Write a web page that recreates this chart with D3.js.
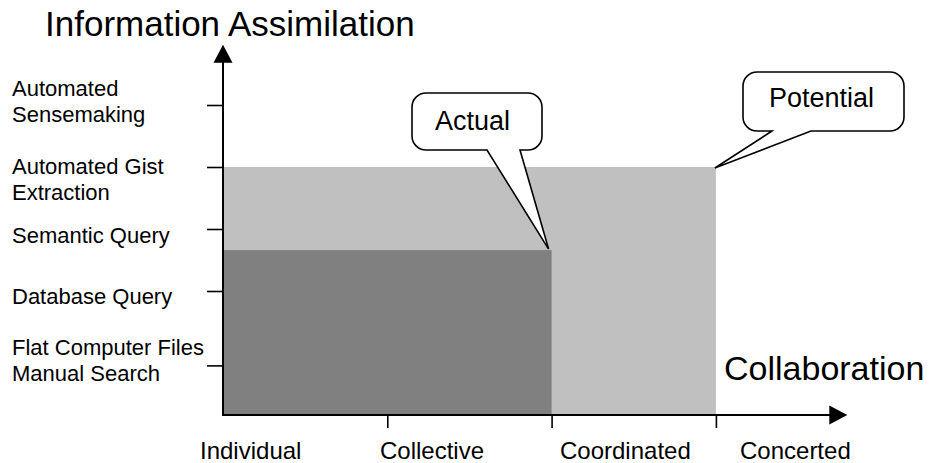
<!DOCTYPE html>
<html>
<head>
<meta charset="utf-8">
<script src="https://cdn.jsdelivr.net/npm/d3@7"></script>
<style>
  html, body { margin: 0; padding: 0; background: #fff; }
  svg { display: block; font-family: "Liberation Sans", Arial, sans-serif; }
</style>
</head>
<body>
<svg id="chart" width="931" height="463"></svg>
<script>
// ---- data ----
const yLevelLabels = [
  ["Flat Computer Files", "Manual Search"],
  ["Database Query"],
  ["Semantic Query"],
  ["Automated Gist", "Extraction"],
  ["Automated", "Sensemaking"]
];
const yLevelValues = [0.8, 2, 3, 4, 5];
const xCategories = ["Individual", "Collective", "Coordinated", "Concerted"];
const xTickValues = [1, 2, 3];
const seriesNames = ["Potential", "Actual"];
const seriesCollab = [3, 2];        // extent along collaboration axis
const seriesAssim = [4, 2.66];      // height along information assimilation axis
const seriesColors = ["#c0c0c0", "#808080"];
const yTitle = "Information Assimilation";
const xTitle = "Collaboration";

// ---- layout ----
const svg = d3.select("#chart");
const x = d3.scaleLinear().domain([0, 1]).range([223, 387.3]);
const y = d3.scaleLinear().domain([0, 1]).range([415, 353]);
const xAxisEnd = 3.8;   // arrow tip on collaboration axis
const yAxisEnd = 5.97;  // arrow tip on assimilation axis

// bars (draw Potential first, Actual on top)
svg.append("g").selectAll("rect")
  .data(seriesNames.map((n, i) => ({ n, cx: seriesCollab[i], cy: seriesAssim[i], c: seriesColors[i] })))
  .join("rect")
  .attr("x", x(0))
  .attr("y", d => y(d.cy))
  .attr("width", d => x(d.cx) - x(0))
  .attr("height", d => y(0) - y(d.cy))
  .attr("fill", d => d.c);

// y axis ticks
const yAxisG = svg.append("g")
  .attr("transform", `translate(${x(0)},0)`)
  .call(d3.axisLeft(y).tickValues(yLevelValues).tickSize(16).tickSizeOuter(0).tickFormat(""));
yAxisG.select(".domain").remove();
yAxisG.selectAll(".tick line").attr("stroke", "#000").attr("stroke-width", 1.6);

// x axis ticks
const xAxisG = svg.append("g")
  .attr("transform", `translate(0,${y(0)})`)
  .call(d3.axisBottom(x).tickValues(xTickValues).tickSize(13).tickSizeOuter(0).tickFormat(""));
xAxisG.select(".domain").remove();
xAxisG.selectAll(".tick line").attr("stroke", "#000").attr("stroke-width", 1.6);

// axis lines with arrows
svg.append("line")
  .attr("x1", x(0)).attr("y1", y(0)).attr("x2", x(0)).attr("y2", y(yAxisEnd) + 14)
  .attr("stroke", "#000").attr("stroke-width", 2);
svg.append("path")
  .attr("d", `M${x(0)},${y(yAxisEnd)} L${x(0) + 9.5},${y(yAxisEnd) + 18} L${x(0) - 9.5},${y(yAxisEnd) + 18} Z`)
  .attr("fill", "#000");
svg.append("line")
  .attr("x1", x(0) - 1).attr("y1", y(0)).attr("x2", x(xAxisEnd) - 14).attr("y2", y(0))
  .attr("stroke", "#000").attr("stroke-width", 2);
svg.append("path")
  .attr("d", `M${x(xAxisEnd)},${y(0)} L${x(xAxisEnd) - 18},${y(0) - 9.5} L${x(xAxisEnd) - 18},${y(0) + 9.5} Z`)
  .attr("fill", "#000");

// y level labels (multi-line, left aligned)
const yLabelFirstDy = [-10, 12.5, 14, 6.7, -8.6];
const yLabelLineH = 26;
const yl = svg.append("g").attr("font-size", 22).attr("fill", "#000");
yLevelLabels.forEach((lines, i) => {
  const t = yl.append("text").attr("x", 12).attr("y", y(yLevelValues[i]) + yLabelFirstDy[i]);
  lines.forEach((ln, j) => {
    t.append("tspan").attr("x", 12).attr("dy", j === 0 ? 0 : yLabelLineH).text(ln);
  });
});

// x category labels
const xLabelPos = d3.scalePoint().domain(xCategories).range([200, 740]);
svg.append("g").attr("font-size", 24).attr("fill", "#000")
  .selectAll("text").data(xCategories).join("text")
  .attr("x", d => xLabelPos(d)).attr("y", 459)
  .text(d => d);

// axis titles
svg.append("text").attr("x", 45).attr("y", 36).attr("font-size", 35).text(yTitle);
svg.append("text").attr("x", 724).attr("y", 380).attr("font-size", 34).text(xTitle);

// callouts
function calloutPath(b, baseL, baseR, tip, r) {
  const { x0, y0, x1, y1 } = b;
  return `M${x0 + r},${y0} H${x1 - r} A${r},${r} 0 0 1 ${x1},${y0 + r} V${y1 - r} A${r},${r} 0 0 1 ${x1 - r},${y1}` +
    ` H${baseR} L${tip[0]},${tip[1]} L${baseL},${y1} H${x0 + r} A${r},${r} 0 0 1 ${x0},${y1 - r} V${y0 + r} A${r},${r} 0 0 1 ${x0 + r},${y0} Z`;
}
const callouts = [
  { name: "Actual", box: { x0: 412, y0: 93, x1: 542, y1: 150 }, baseL: 487, baseR: 520,
    tip: [x(seriesCollab[1]) - 3, y(seriesAssim[1]) - 1], tx: 435, ty: 129.5 },
  { name: "Potential", box: { x0: 743, y0: 72, x1: 904, y1: 131 }, baseL: 772, baseR: 811,
    tip: [x(seriesCollab[0]) - 1, y(seriesAssim[0]) + 1], tx: 769, ty: 107 }
];
const cg = svg.append("g");
callouts.forEach(c => {
  cg.append("path").attr("d", calloutPath(c.box, c.baseL, c.baseR, c.tip, 14))
    .attr("fill", "#fff").attr("stroke", "#000").attr("stroke-width", 1.6).attr("stroke-linejoin", "miter");
  cg.append("text").attr("x", c.tx).attr("y", c.ty).attr("font-size", 27).text(c.name);
});
</script>
</body>
</html>
